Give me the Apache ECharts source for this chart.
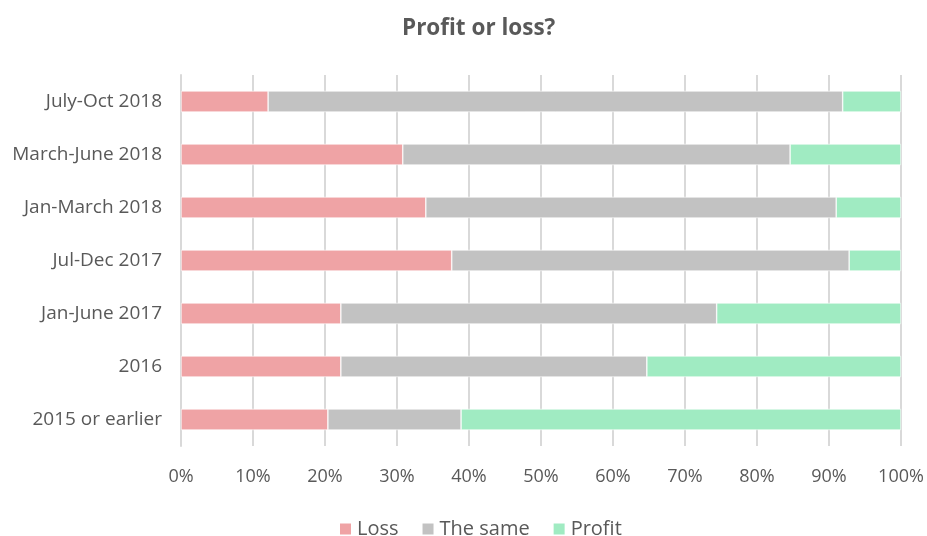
<!DOCTYPE html>
<html>
<head>
<meta charset="utf-8">
<script src="https://cdn.jsdelivr.net/npm/echarts@6/dist/echarts.min.js"></script>
<style>
html, body { margin: 0; padding: 0; background: #fff; }
#main { width: 927px; height: 536px; }
</style>
</head>
<body>
<div id="main"></div>
<script>
// 数据（从上到下读取，y轴需要反转）
var categories = ['July-Oct 2018', 'March-June 2018', 'Jan-March 2018', 'Jul-Dec 2017', 'Jan-June 2017', '2016', '2015 or earlier'];
var lossValues = [12.1, 30.8, 34.0, 37.6, 22.2, 22.2, 20.4];
var sameValues = [79.8, 53.8, 57.0, 55.2, 52.2, 42.5, 18.5];
var profitValues = [8.1, 15.4, 9.0, 7.2, 25.6, 35.3, 61.1];
var xTicks = [0, 10, 20, 30, 40, 50, 60, 70, 80, 90, 100];

var textColor = '#595959';
var font = '"Open Sans", sans-serif';

var myChart = echarts.init(document.getElementById('main'));

function barSeries(name, data, color) {
    return {
        name: name,
        type: 'bar',
        stack: 'total',
        barCategoryGap: '60%',
        data: data,
        itemStyle: {
            color: color,
            borderColor: '#ffffff',
            borderWidth: 0.6
        }
    };
}

myChart.setOption({
    animation: false,
    title: {
        text: 'Profit or loss?',
        left: 397,
        top: 12,
        textStyle: {
            color: textColor,
            fontFamily: font,
            fontSize: 22.5,
            fontWeight: 'bold'
        }
    },
    legend: {
        top: 514,
        left: 333,
        itemWidth: 13,
        itemHeight: 13,
        itemGap: 22,
        icon: 'rect',
        textStyle: {
            color: textColor,
            fontFamily: font,
            fontSize: 20
        },
        data: ['Loss', 'The same', 'Profit']
    },
    grid: {
        left: 181,
        right: 26,
        top: 75,
        bottom: 90,
        containLabel: false
    },
    xAxis: {
        type: 'value',
        min: 0,
        max: 100,
        interval: 10,
        axisLine: { show: false },
        axisTick: { show: false },
        axisLabel: {
            color: textColor,
            fontFamily: font,
            fontSize: 18,
            margin: 22,
            formatter: function (v) {
                return xTicks.indexOf(v) >= 0 ? v + '%' : '';
            }
        },
        splitLine: {
            lineStyle: { color: '#d9d9d9', width: 2 }
        }
    },
    yAxis: {
        type: 'category',
        inverse: true,
        data: categories,
        axisLine: { lineStyle: { color: '#d9d9d9', width: 2 } },
        axisTick: { show: false },
        axisLabel: {
            color: textColor,
            fontFamily: font,
            fontSize: 19,
            margin: 19
        }
    },
    series: [
        barSeries('Loss', lossValues, '#efa3a5'),
        barSeries('The same', sameValues, '#c2c2c2'),
        barSeries('Profit', profitValues, '#a0ebc2')
    ]
});
</script>
</body>
</html>
